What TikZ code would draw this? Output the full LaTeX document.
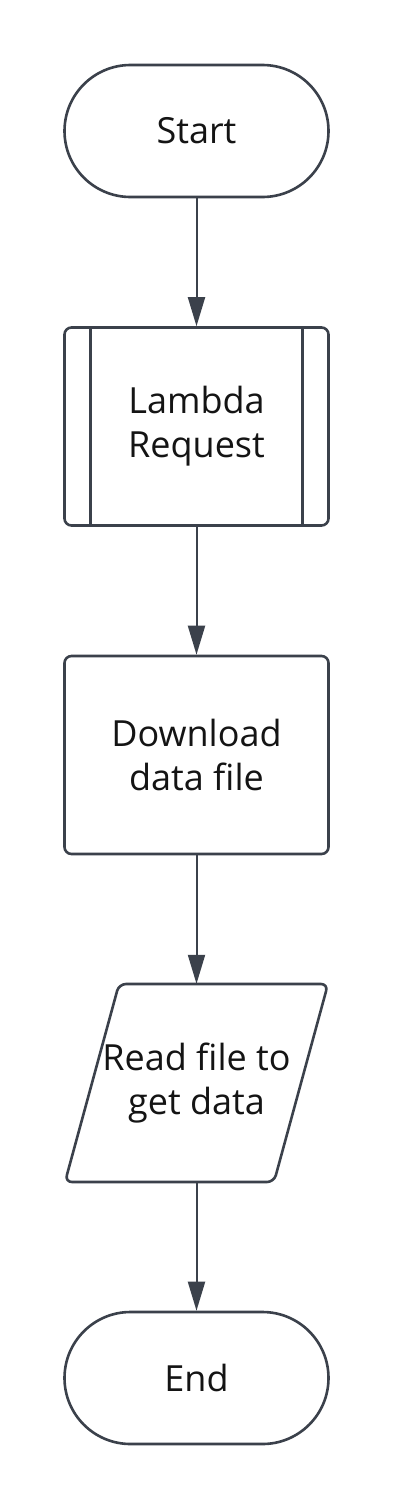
\documentclass[tikz,border=0pt]{standalone}
\usepackage{fontspec}
\setmainfont{Open Sans}
\usetikzlibrary{arrows.meta}
\definecolor{edgecol}{HTML}{3B414B}
\definecolor{txtcol}{HTML}{141414}
\begin{document}
\begin{tikzpicture}[x=1pt,y=-1pt,
  base/.style={draw=edgecol, line width=2.6pt, fill=white, text=txtcol,
    font=\fontsize{36}{44}\selectfont, align=center, inner sep=0pt},
  terminal/.style={base, minimum width=264pt, minimum height=132pt, rounded corners=66pt},
  procbox/.style={base, minimum width=264pt, minimum height=198pt, rounded corners=7pt},
  textonly/.style={text=txtcol, font=\fontsize{36}{44}\selectfont, align=center, inner sep=0pt,
    minimum width=200pt, minimum height=198pt},
  conn/.style={draw=edgecol, line width=2pt, -{Triangle[length=29pt,width=17pt]}}
]
\useasboundingbox (0,0) rectangle (416,1510);
\fill[white] (0,0) rectangle (416,1510);

\node[terminal] (start) at (196.5,131) {Start};
\node[procbox] (lambda) at (196.5,426.5) {Lambda\\Request};
\draw[edgecol, line width=2.6pt] ([xshift=27.5pt]lambda.north west) -- ([xshift=27.5pt]lambda.south west);
\draw[edgecol, line width=2.6pt] ([xshift=-27.5pt]lambda.north east) -- ([xshift=-27.5pt]lambda.south east);
\node[procbox] (download) at (196.5,755) {Download\\data file};

\draw[edgecol, line width=2.6pt, fill=white, rounded corners=7pt]
  (119,984) -- (328,984) -- (274,1182) -- (65,1182) -- cycle;
\node[textonly] (read) at (196.5,1083) {Read file to\\get data};

\node[terminal] (end) at (196.5,1378) {End};

\draw[conn] (start) -- (lambda);
\draw[conn] (lambda) -- (download);
\draw[conn] (download) -- (read);
\draw[conn] (read) -- (end);
\end{tikzpicture}
\end{document}
